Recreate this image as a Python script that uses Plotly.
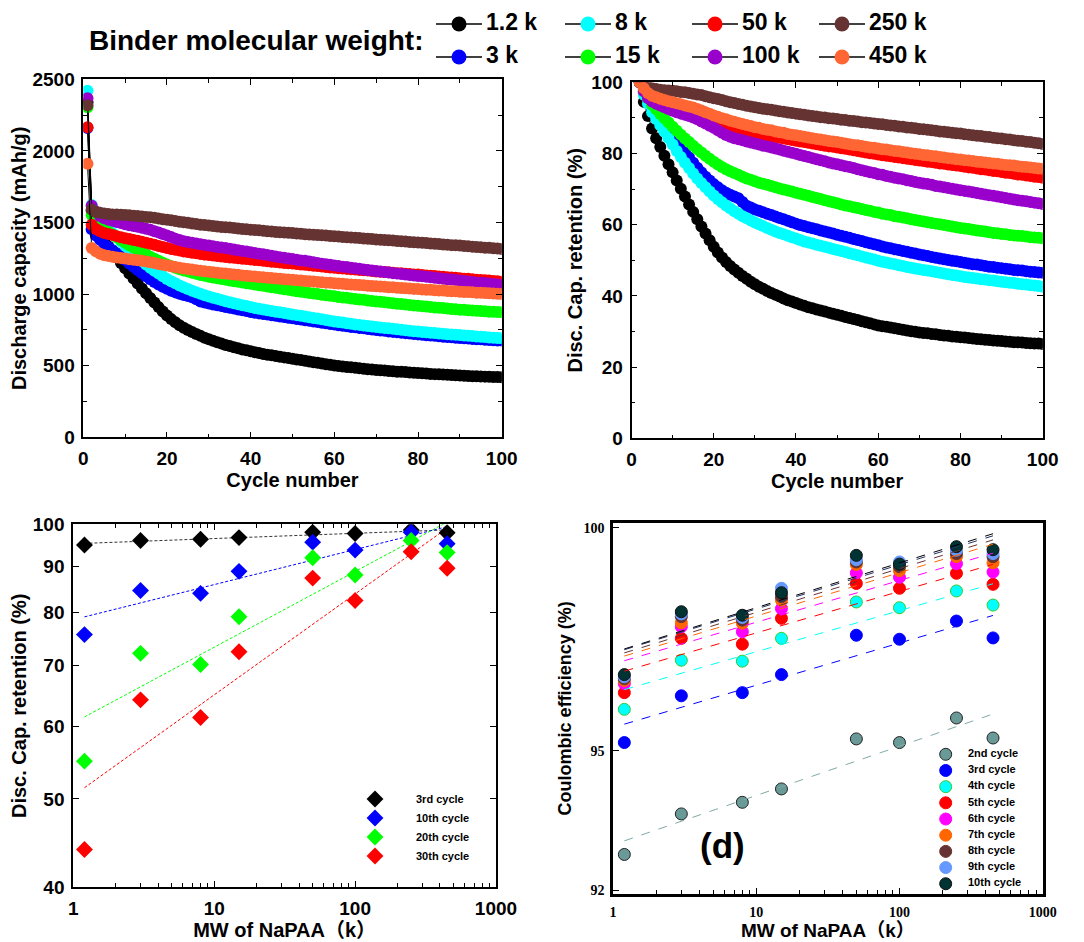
import numpy as np
import plotly.graph_objects as go

# ---------------- data: panels (a) & (b) ----------------
binder_labels = ["1.2 k", "3 k", "8 k", "15 k", "50 k", "100 k", "250 k", "450 k"]
binder_colors = ["#000000", "#0000FF", "#00FFFF", "#00FF00", "#FF0000", "#9900CC", "#663333", "#FF6633"]
cap_cycle1 = [2340, 2160, 2420, 2305, 2165, 2367, 2318, 1910]   # mAh/g, cycle 1
cap_cycle2 = [1581, 1452, 1622, 1553, 1485, 1617, 1590, 1322]   # mAh/g, cycle 2 (=100 %)
cycles_ret = list(range(2, 101))

ret_1k2 = [100, 94.5, 90.5, 87.0, 84.3, 81.8, 79.4, 77.0, 74.7,
           72.4, 70.1, 67.9, 65.7, 63.6, 61.5, 59.5, 57.5, 55.6, 53.8,
           52.2, 50.8, 49.5, 48.4, 47.4, 46.5, 45.6, 44.8, 44.0, 43.3,
           42.6, 42.0, 41.4, 40.8, 40.3, 39.8, 39.3, 38.8, 38.4, 38.0,
           37.6, 37.2, 36.8, 36.5, 36.2, 35.9, 35.6, 35.3, 35.0, 34.7,
           34.4, 34.1, 33.8, 33.5, 33.2, 32.9, 32.6, 32.3, 32.0, 31.7,
           31.5, 31.3, 31.1, 30.9, 30.7, 30.5, 30.3, 30.1, 29.9, 29.7,
           29.6, 29.5, 29.3, 29.2, 29.0, 28.9, 28.8, 28.6, 28.5, 28.4,
           28.3, 28.2, 28.0, 27.9, 27.8, 27.7, 27.6, 27.5, 27.4, 27.3,
           27.2, 27.1, 27.0, 26.95, 26.9, 26.8, 26.7, 26.65, 26.6, 26.5]
ret_3k = [100, 97.0, 95.0, 93.0, 91.5, 90.0, 88.5, 86.9, 85.3,
          83.6, 82.0, 80.4, 78.9, 77.4, 76.0, 74.7, 73.5, 72.4, 71.4,
          70.5, 69.7, 69.0, 68.4, 67.9, 67.4, 66.4, 65.3, 64.8, 64.3,
          63.9, 63.5, 63.1, 62.7, 62.3, 61.9, 61.5, 61.1, 60.7, 60.3,
          59.9, 59.6, 59.3, 59.0, 58.7, 58.4, 58.1, 57.8, 57.5, 57.2,
          56.9, 56.6, 56.3, 56.0, 55.7, 55.4, 55.1, 54.8, 54.5, 54.2,
          53.9, 53.6, 53.4, 53.1, 52.9, 52.6, 52.4, 52.1, 51.9, 51.6,
          51.4, 51.2, 50.9, 50.7, 50.5, 50.3, 50.1, 49.9, 49.7, 49.5,
          49.3, 49.1, 48.9, 48.8, 48.6, 48.4, 48.2, 48.1, 47.9, 47.8,
          47.6, 47.5, 47.3, 47.2, 47.1, 46.9, 46.8, 46.7, 46.6, 46.5]
ret_8k = [100, 96.5, 94.0, 91.6, 89.7, 87.9, 86.1, 84.3, 82.5,
          80.7, 79.0, 77.4, 75.9, 74.4, 73.0, 71.7, 70.5, 69.3, 68.2,
          67.2, 66.3, 65.4, 64.6, 63.8, 63.1, 62.4, 61.8, 61.2, 60.6,
          60.1, 59.6, 59.1, 58.6, 58.1, 57.7, 57.3, 56.9, 56.5, 56.1,
          55.7, 55.3, 55.0, 54.7, 54.4, 54.1, 53.8, 53.5, 53.2, 52.9,
          52.6, 52.3, 52.0, 51.7, 51.4, 51.1, 50.8, 50.5, 50.2, 49.9,
          49.6, 49.4, 49.1, 48.9, 48.6, 48.4, 48.1, 47.9, 47.7, 47.5,
          47.3, 47.1, 46.9, 46.7, 46.5, 46.3, 46.1, 45.9, 45.7, 45.5,
          45.3, 45.2, 45.0, 44.9, 44.7, 44.6, 44.4, 44.3, 44.1, 44.0,
          43.8, 43.7, 43.6, 43.4, 43.3, 43.2, 43.0, 42.9, 42.8, 42.6]
ret_15k = [100, 97.5, 95.5, 93.7, 92.4, 91.1, 89.9, 88.7, 87.5,
           86.4, 85.3, 84.2, 83.2, 82.2, 81.2, 80.3, 79.4, 78.5, 77.7,
           76.9, 76.2, 75.6, 75.0, 74.5, 74.0, 73.5, 73.0, 72.6, 72.2,
           71.8, 71.5, 71.2, 70.9, 70.5, 70.2, 69.9, 69.6, 69.3, 69.0,
           68.7, 68.4, 68.1, 67.8, 67.5, 67.2, 66.9, 66.6, 66.3, 66.0,
           65.7, 65.4, 65.2, 64.9, 64.7, 64.4, 64.1, 63.9, 63.6, 63.4,
           63.1, 62.9, 62.7, 62.4, 62.2, 62.0, 61.8, 61.5, 61.3, 61.1,
           60.9, 60.7, 60.5, 60.3, 60.1, 59.9, 59.7, 59.5, 59.3, 59.1,
           58.9, 58.8, 58.6, 58.4, 58.2, 58.1, 57.9, 57.7, 57.6, 57.4,
           57.3, 57.1, 57.0, 56.9, 56.8, 56.7, 56.5, 56.4, 56.3, 56.2]
ret_50k = [100, 98.0, 96.9, 96.1, 95.6, 95.1, 94.6, 94.1, 93.6,
           93.2, 92.8, 92.4, 92.0, 91.5, 91.0, 90.5, 90.0, 89.5, 89.0,
           88.6, 88.2, 87.8, 87.4, 87.1, 86.8, 86.5, 86.2, 85.9, 85.7,
           85.5, 85.2, 85.0, 84.8, 84.6, 84.4, 84.2, 84.0, 83.8, 83.6,
           83.4, 83.2, 83.0, 82.8, 82.6, 82.4, 82.2, 82.0, 81.9, 81.7,
           81.5, 81.3, 81.1, 80.9, 80.7, 80.5, 80.3, 80.1, 79.9, 79.7,
           79.5, 79.4, 79.2, 79.0, 78.9, 78.7, 78.5, 78.4, 78.2, 78.0,
           77.9, 77.7, 77.6, 77.4, 77.2, 77.1, 76.9, 76.8, 76.6, 76.5,
           76.3, 76.1, 76.0, 75.8, 75.6, 75.5, 75.3, 75.1, 75.0, 74.8,
           74.6, 74.5, 74.3, 74.1, 74.0, 73.8, 73.7, 73.5, 73.4, 73.2]
ret_100k = [100, 97.5, 95.6, 94.6, 94.0, 93.5, 93.0, 92.5, 92.0,
            91.6, 91.2, 90.9, 90.5, 90.1, 89.6, 89.0, 88.4, 87.8, 87.2,
            86.5, 85.8, 85.2, 84.7, 84.3, 84.0, 83.7, 83.4, 83.1, 82.8,
            82.5, 82.2, 82.0, 81.7, 81.4, 81.1, 80.8, 80.5, 80.2, 79.9,
            79.6, 79.3, 79.0, 78.7, 78.4, 78.1, 77.8, 77.5, 77.2, 77.0,
            76.7, 76.4, 76.2, 75.9, 75.6, 75.3, 75.0, 74.7, 74.5, 74.2,
            74.0, 73.7, 73.5, 73.2, 73.0, 72.8, 72.5, 72.3, 72.0, 71.8,
            71.6, 71.4, 71.2, 70.9, 70.7, 70.5, 70.3, 70.1, 69.9, 69.7,
            69.5, 69.3, 69.1, 68.9, 68.7, 68.5, 68.3, 68.1, 67.9, 67.7,
            67.5, 67.3, 67.1, 66.9, 66.7, 66.6, 66.4, 66.2, 66.0, 65.8]
ret_250k = [100, 99.0, 98.6, 98.3, 98.1, 97.9, 97.8, 97.7, 97.6,
            97.5, 97.3, 97.2, 97.0, 96.8, 96.6, 96.4, 96.1, 95.8, 95.5,
            95.3, 95.0, 94.7, 94.4, 94.2, 93.9, 93.7, 93.4, 93.2, 93.0,
            92.8, 92.6, 92.4, 92.3, 92.1, 91.9, 91.7, 91.5, 91.4, 91.2,
            91.0, 90.9, 90.7, 90.5, 90.4, 90.2, 90.1, 89.9, 89.8, 89.7,
            89.5, 89.4, 89.2, 89.1, 89.0, 88.8, 88.7, 88.6, 88.4, 88.3,
            88.2, 88.0, 87.9, 87.8, 87.6, 87.5, 87.3, 87.2, 87.1, 86.9,
            86.8, 86.7, 86.5, 86.4, 86.2, 86.1, 86.0, 85.8, 85.7, 85.6,
            85.4, 85.3, 85.1, 85.0, 84.9, 84.7, 84.6, 84.4, 84.3, 84.2,
            84.0, 83.9, 83.7, 83.6, 83.5, 83.3, 83.2, 83.0, 82.9, 82.7]
ret_450k = [100, 98.3, 97.0, 96.2, 95.8, 95.4, 95.0, 94.7, 94.4,
            94.1, 93.8, 93.5, 93.2, 92.9, 92.5, 92.1, 91.6, 91.2, 90.7,
            90.3, 89.9, 89.6, 89.2, 88.9, 88.6, 88.3, 88.0, 87.7, 87.4,
            87.2, 86.9, 86.7, 86.5, 86.2, 86.0, 85.8, 85.5, 85.3, 85.1,
            84.9, 84.7, 84.5, 84.3, 84.1, 83.9, 83.7, 83.5, 83.4, 83.2,
            83.0, 82.8, 82.6, 82.4, 82.3, 82.1, 81.9, 81.7, 81.6, 81.4,
            81.2, 81.1, 80.9, 80.7, 80.6, 80.4, 80.3, 80.1, 79.9, 79.8,
            79.6, 79.5, 79.3, 79.2, 79.0, 78.9, 78.7, 78.6, 78.4, 78.3,
            78.1, 78.0, 77.9, 77.7, 77.6, 77.5, 77.3, 77.2, 77.1, 76.9,
            76.8, 76.7, 76.6, 76.4, 76.3, 76.2, 76.1, 75.9, 75.8, 75.7]
retention_series = [ret_1k2, ret_3k, ret_8k, ret_15k, ret_50k, ret_100k, ret_250k, ret_450k]

# ---------------- data: panel (c) ----------------
mw_k = [1.2, 3, 8, 15, 50, 100, 250, 450]
c_labels = ["3rd cycle", "10th cycle", "20th cycle", "30th cycle"]
c_colors = ["#000000", "#0000FF", "#00FF00", "#FF0000"]
c_line_colors = ["#333333", "#0000FF", "#00FF00", "#FF0000"]
ret_3rd = [94.9, 96.0, 96.3, 96.7, 98.0, 97.7, 98.6, 97.9]
ret_10th = [75.7, 84.6, 84.0, 88.8, 95.6, 93.7, 98.0, 95.2]
ret_20th = [55.0, 72.2, 70.2, 79.2, 91.9, 88.0, 96.0, 93.1]
ret_30th = [44.0, 64.2, 61.4, 72.5, 87.3, 82.5, 93.3, 89.5]
c_series = [ret_3rd, ret_10th, ret_20th, ret_30th]

# ---------------- data: panel (d) ----------------
d_labels = ["2nd cycle", "3rd cycle", "4th cycle", "5th cycle", "6th cycle",
            "7th cycle", "8th cycle", "9th cycle", "10th cycle"]
d_colors = ["#6A9A98", "#0000FF", "#00FFFF", "#FF0000", "#FF00FF",
            "#FF6600", "#663333", "#6699FF", "#003333"]
d_edge = ["#222222", "#0000FF", "#33CC33", "#FF0000", "#FF00FF",
          "#FF6600", "#663333", "#6699FF", "#111111"]
d_line_colors = ["#7FA9A7", "#0000FF", "#00FFFF", "#FF0000", "#FF00FF",
                 "#FF6600", "#663333", "#223366", "#000000"]
ce_2nd = [92.76, 93.63, 93.88, 94.17, 95.26, 95.18, 95.72, 95.28]
ce_3rd = [95.18, 96.21, 96.28, 96.68, 97.56, 97.47, 97.88, 97.50]
ce_4th = [95.91, 97.00, 96.98, 97.49, 98.31, 98.18, 98.56, 98.24]
ce_5th = [96.28, 97.49, 97.36, 97.94, 98.73, 98.62, 98.96, 98.71]
ce_6th = [96.48, 97.75, 97.64, 98.16, 98.97, 98.87, 99.18, 98.99]
ce_7th = [96.55, 97.84, 97.83, 98.35, 99.16, 99.02, 99.34, 99.20]
ce_8th = [96.59, 97.98, 97.90, 98.43, 99.22, 99.11, 99.41, 99.34]
ce_9th = [96.63, 98.04, 97.96, 98.62, 99.27, 99.22, 99.49, 99.41]
ce_10th = [96.68, 98.09, 98.01, 98.52, 99.37, 99.17, 99.57, 99.50]
d_series = [ce_2nd, ce_3rd, ce_4th, ce_5th, ce_6th, ce_7th, ce_8th, ce_9th, ce_10th]

# ---------------- figure geometry ----------------
OFF = 8                      # page body margin of the html page
W, H = 1084 - OFF, 942 - OFF
SANS = "Liberation Sans, Arial, Noto Sans CJK SC, sans-serif"
SERIF = "Liberation Serif, Times New Roman, serif"


def px_x(p):
    return (p - OFF) / W


def px_y(p):
    return 1 - (p - OFF) / H


fig = go.Figure()

for i, lab in enumerate(binder_labels):
    cap = [cap_cycle1[i]] + [r / 100.0 * cap_cycle2[i] for r in retention_series[i]]
    fig.add_trace(go.Scatter(
        x=[1] + cycles_ret, y=cap, mode="lines+markers", name=lab,
        line=dict(color="black", width=1),
        marker=dict(color=binder_colors[i], size=12, line=dict(width=0)),
        showlegend=False, xaxis="x", yaxis="y"))
for i, lab in enumerate(binder_labels):
    fig.add_trace(go.Scatter(
        x=cycles_ret, y=retention_series[i], mode="lines+markers", name=lab,
        line=dict(color="black", width=1),
        marker=dict(color=binder_colors[i], size=12, line=dict(width=0)),
        showlegend=False, xaxis="x2", yaxis="y2"))

# panel (c): power-law trend lines (fit in log-log space) + points
lx = np.log10(np.array(mw_k))
fit_x = np.array([mw_k[0], mw_k[-1]])
for i, ys in enumerate(c_series):
    k, b = np.polyfit(lx, np.log10(np.array(ys)), 1)
    fig.add_trace(go.Scatter(
        x=fit_x, y=10 ** (k * np.log10(fit_x) + b), mode="lines",
        line=dict(color=c_line_colors[i], width=1, dash="3px,2px"),
        showlegend=False, xaxis="x3", yaxis="y3", hoverinfo="skip"))
for i, ys in enumerate(c_series):
    fig.add_trace(go.Scatter(
        x=mw_k, y=ys, mode="markers", name=c_labels[i],
        marker=dict(symbol="diamond", size=13, color=c_colors[i], line=dict(width=0)),
        legend="legend", xaxis="x3", yaxis="y3"))

# panel (d)
for i, ys in enumerate(d_series):
    fig.add_trace(go.Scatter(
        x=mw_k, y=ys, mode="markers", name=d_labels[i],
        marker=dict(size=12, color=d_colors[i], line=dict(color=d_edge[i], width=1)),
        showlegend=False, xaxis="x4", yaxis="y4"))
for i, ys in enumerate(d_series):
    k, b = np.polyfit(lx, np.log10(np.array(ys)), 1)
    fig.add_trace(go.Scatter(
        x=fit_x, y=10 ** (k * np.log10(fit_x) + b), mode="lines",
        line=dict(color=d_line_colors[i], width=1, dash="dash"),
        showlegend=False, xaxis="x4", yaxis="y4", hoverinfo="skip"))

# ---------- keys drawn on a hidden full-page helper axis (values = page pixels) ----------
# panel (d) key: one row per series
D_KEY_MARKER_X, D_KEY_TEXT_X, D_KEY_TOP, D_KEY_STEP = 945.7, 968.0, 754.3, 16.18
d_rows = [D_KEY_TOP + j * D_KEY_STEP for j in range(len(d_labels))]
fig.add_trace(go.Scatter(
    x=[D_KEY_MARKER_X] * len(d_rows), y=d_rows, mode="markers",
    marker=dict(size=12, color=d_colors, line=dict(color=d_edge, width=1)),
    showlegend=False, hoverinfo="skip", cliponaxis=False, xaxis="x5", yaxis="y5"))
fig.add_trace(go.Scatter(
    x=[D_KEY_TEXT_X] * len(d_rows), y=d_rows, mode="text", text=d_labels,
    textposition="middle right",
    textfont=dict(family=SANS, size=11, color="black", weight="bold"),
    showlegend=False, hoverinfo="skip", cliponaxis=False, xaxis="x5", yaxis="y5"))

# top key: binder molecular weights, 4 columns x 2 rows (column-major)
KEY_COLS = [459, 588, 715, 842]
KEY_ROWS = [24, 57]
KEY_HALF_LINE, KEY_TEXT_GAP = 23, 27
kx = [KEY_COLS[i // 2] for i in range(len(binder_labels))]
ky = [KEY_ROWS[i % 2] for i in range(len(binder_labels))]
seg_x, seg_y = [], []
for cx, cy in zip(kx, ky):
    seg_x += [cx - KEY_HALF_LINE, cx + KEY_HALF_LINE, None]
    seg_y += [cy, cy, None]
fig.add_trace(go.Scatter(x=seg_x, y=seg_y, mode="lines", line=dict(color="black", width=1.3),
                         showlegend=False, hoverinfo="skip", cliponaxis=False, xaxis="x5", yaxis="y5"))
fig.add_trace(go.Scatter(x=kx, y=ky, mode="markers",
                         marker=dict(size=15, color=binder_colors, line=dict(width=0)),
                         showlegend=False, hoverinfo="skip", cliponaxis=False, xaxis="x5", yaxis="y5"))
fig.add_trace(go.Scatter(x=[cx + KEY_TEXT_GAP for cx in kx], y=ky, mode="text", text=binder_labels,
                         textposition="middle right",
                         textfont=dict(family=SANS, size=23, color="black", weight="bold"),
                         showlegend=False, hoverinfo="skip", cliponaxis=False, xaxis="x5", yaxis="y5"))

tick_font = dict(family=SANS, size=19, color="black", weight="bold")
title_font = dict(family=SANS, size=20, color="black", weight="bold")


def lin_axis(**kw):
    d = dict(showline=True, linecolor="black", linewidth=1.5, mirror="ticks",
             ticks="inside", ticklen=6, tickwidth=1.3, tickcolor="black",
             showgrid=False, zeroline=False, tickfont=tick_font,
             ticklabelstandoff=3, automargin=False)
    d.update(kw)
    return d


fig.update_layout(
    width=W, height=H, margin=dict(l=0, r=0, t=0, b=0),
    paper_bgcolor="white", plot_bgcolor="rgba(0,0,0,0)", font=dict(family=SANS, color="black"),
    xaxis=lin_axis(domain=[px_x(83.3), px_x(501.7)], range=[0, 100], dtick=20,
                   minor=dict(ticks="inside", dtick=10, ticklen=4, tickcolor="black"),
                   title=dict(text="Cycle number", font=title_font, standoff=0), anchor="y"),
    yaxis=lin_axis(domain=[px_y(437.3), px_y(79.3)], range=[0, 2500], dtick=500,
                   minor=dict(ticks="inside", dtick=250, ticklen=4, tickcolor="black"),
                   title=dict(text="Discharge capacity (mAh/g)", font=title_font, standoff=3), anchor="x"),
    xaxis2=lin_axis(domain=[px_x(631.5), px_x(1042.7)], range=[0, 100], dtick=20,
                    minor=dict(ticks="inside", dtick=10, ticklen=4, tickcolor="black"),
                    title=dict(text="Cycle number", font=title_font, standoff=0), anchor="y2"),
    yaxis2=lin_axis(domain=[px_y(438.3), px_y(82.3)], range=[0, 100], dtick=20,
                    minor=dict(ticks="inside", dtick=10, ticklen=4, tickcolor="black"),
                    title=dict(text="Disc. Cap. retention (%)", font=title_font, standoff=3), anchor="x2"),
    xaxis3=lin_axis(type="log", domain=[px_x(73.3), px_x(496)], range=[0, 3], dtick=1, linewidth=2,
                    minor=dict(ticks="inside", ticklen=4, tickcolor="black"),
                    title=dict(text="MW of NaPAA（k）", font=title_font, standoff=0), anchor="y3"),
    yaxis3=lin_axis(type="log", domain=[px_y(887.3), px_y(524.3)], range=[np.log10(40), 2], linewidth=2,
                    tickvals=[40, 50, 60, 70, 80, 90, 100], ticktext=["40", "50", "60", "70", "80", "90", "100"],
                    title=dict(text="Disc. Cap. retention (%)", font=title_font, standoff=3), anchor="x3"),
    xaxis4=lin_axis(type="log", domain=[px_x(613), px_x(1042.7)], range=[0, 3], dtick=1, linewidth=2.5,
                    mirror=True, tickfont=dict(family=SERIF, size=14, color="black", weight="bold"),
                    minor=dict(ticks="inside", ticklen=4, tickcolor="black"),
                    title=dict(text="MW of NaPAA（k）", font=dict(family=SANS, size=19, color="black", weight="bold"), standoff=2),
                    anchor="y4"),
    yaxis4=lin_axis(type="log", domain=[px_y(894), px_y(522.7)], range=[np.log10(91.92), np.log10(100.12)],
                    linewidth=2.5, mirror=True, tickvals=[92, 95, 100], ticktext=["92", "95", "100"],
                    tickfont=dict(family=SERIF, size=14, color="black", weight="bold"),
                    title=dict(text="Coulombic efficiency (%)", font=dict(family=SANS, size=18, color="black", weight="bold"), standoff=8),
                    anchor="x4"),
    # hidden helper axis spanning the whole page, in page-pixel units (for the keys)
    xaxis5=dict(domain=[0, 1], range=[OFF, OFF + W], visible=False, fixedrange=True, anchor="y5"),
    yaxis5=dict(domain=[0, 1], range=[OFF + H, OFF], visible=False, fixedrange=True, anchor="x5"),
    legend=dict(x=px_x(375 - 41), xanchor="left", y=px_y(827.5), yanchor="middle",
                font=dict(family=SANS, size=11, color="black", weight="bold"), itemwidth=72,
                bgcolor="rgba(0,0,0,0)", borderwidth=0),
)

fig.add_annotation(text="Binder molecular weight:", x=px_x(87), y=px_y(40), xref="paper", yref="paper",
                   xanchor="left", yanchor="middle", showarrow=False,
                   font=dict(family=SANS, size=28, color="black", weight="bold"))
fig.add_annotation(text="(d)", x=px_x(722.7), y=px_y(845), xref="paper", yref="paper",
                   xanchor="center", yanchor="middle", showarrow=False,
                   font=dict(family=SANS, size=35, color="black", weight="bold"))

fig.write_html("out.html")
